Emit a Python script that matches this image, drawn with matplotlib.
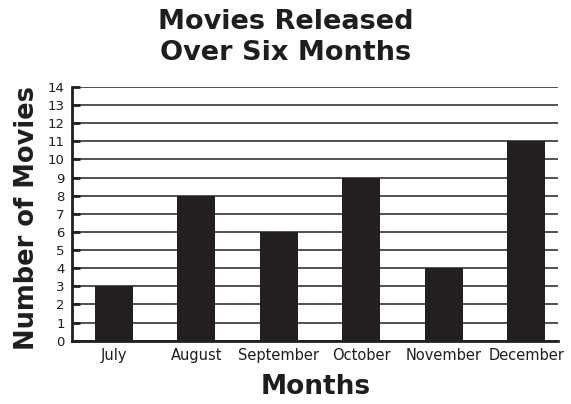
import matplotlib
matplotlib.use("Agg")
import matplotlib.pyplot as plt
import numpy as np

months = ["July", "August", "September", "October", "November", "December"]
movies = [3, 8, 6, 9, 4, 11]
yticks = list(range(0, 15))

ink = "#231f20"
text_c = "#1e1e1e"
plt.rcParams["font.family"] = ["DejaVu Sans"]

fig = plt.figure(figsize=(5.71, 4.04), dpi=100)
ax = fig.add_axes([0.1256, 0.1567, 0.9778 - 0.1256, 0.785 - 0.1567])

x = np.arange(len(months))
ax.bar(x, movies, width=0.46, color=ink, zorder=3)

ax.set_xlim(-0.51, 5.39)
ax.set_ylim(0, 14)
ax.set_yticks(yticks)
ax.set_xticks(x)
ax.set_xticklabels(months)

ax.yaxis.grid(True, color=ink, linewidth=1.1, zorder=1)
ax.set_axisbelow(True)

for s in ["top", "right"]:
    ax.spines[s].set_visible(False)
for s in ["left", "bottom"]:
    ax.spines[s].set_linewidth(2)
    ax.spines[s].set_color(ink)
    ax.spines[s].set_zorder(4)

ax.tick_params(axis="y", direction="in", length=6, width=2, color=ink,
               labelsize=9.5, labelcolor=text_c, pad=5)
ax.tick_params(axis="x", length=0, labelsize=10.5, labelcolor=text_c, pad=5)

fig.text(0.5, 1 - 22 / 404, "Movies Released", ha="center", va="center",
         fontsize=19.5, fontweight="bold", color=text_c)
fig.text(0.5, 1 - 53 / 404, "Over Six Months", ha="center", va="center",
         fontsize=19.5, fontweight="bold", color=text_c)
fig.text(27 / 571, 1 - 218 / 404, "Number of Movies", rotation=90, ha="center", va="center",
         fontsize=18.5, fontweight="bold", color=text_c)
fig.text(316 / 571, 1 - 387 / 404, "Months", ha="center", va="center",
         fontsize=19, fontweight="bold", color=text_c)

fig.savefig("out.png", dpi=100)
